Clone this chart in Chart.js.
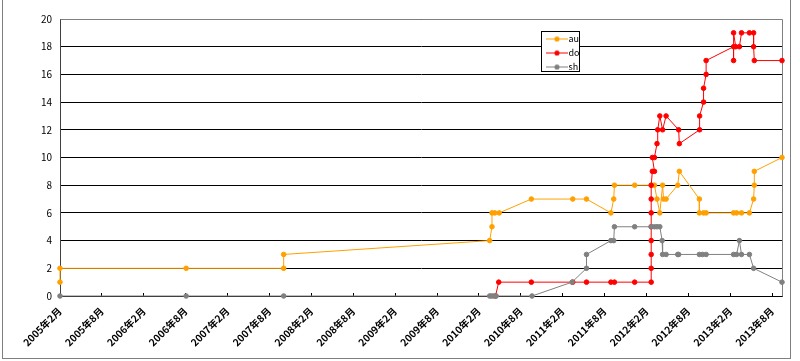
<!DOCTYPE html>
<html><head><meta charset="utf-8">
<script src="https://cdn.jsdelivr.net/npm/chart.js@4/dist/chart.umd.min.js"></script>
<style>
html,body{margin:0;padding:0;background:#fff;overflow:hidden;width:800px;height:361px}
#frame{position:absolute;left:2px;top:-2px;width:787px;height:359px;border:1px solid #7f7f7f;}
#wrap{position:absolute;left:0;top:0;width:800px;height:361px}
</style></head><body>
<div id="frame"></div>
<div id="wrap"><canvas id="c" width="800" height="361"></canvas></div>
<script>
const seriesNames = ['au', 'do', 'sh'];
const seriesColors = ['#FFA000', '#FF0000', '#808080'];

const auDates = ['2005-02-01','2005-02-01','2006-08-03','2007-10-02','2007-10-02','2010-03-17','2010-03-27','2010-03-27','2010-04-09','2010-04-28','2010-09-16','2011-03-14','2011-05-13','2011-08-28','2011-09-10','2011-09-13','2011-12-10','2012-02-21','2012-03-05','2012-03-16','2012-03-28','2012-04-10','2012-04-14','2012-04-25','2012-06-15','2012-06-22','2012-09-18','2012-09-18','2012-10-06','2012-10-17','2013-02-15','2013-02-28','2013-03-19','2013-04-23','2013-05-11','2013-05-14','2013-05-14','2013-09-13'];
const auValues = [1,2,2,2,3,4,5,6,6,6,7,7,7,6,7,8,8,8,8,7,6,8,7,7,8,9,7,6,6,6,6,6,6,6,7,8,9,10];

const doDates = ['2010-04-12','2010-04-26','2010-09-16','2011-03-14','2011-05-13','2011-08-28','2011-09-13','2011-12-10','2012-02-21','2012-02-21','2012-02-21','2012-02-21','2012-02-21','2012-02-21','2012-02-21','2012-02-21','2012-02-26','2012-03-05','2012-02-26','2012-03-05','2012-03-16','2012-03-19','2012-03-28','2012-04-10','2012-04-25','2012-06-19','2012-06-22','2012-09-19','2012-09-19','2012-10-06','2012-10-06','2012-10-17','2012-10-17','2013-02-15','2013-02-15','2013-02-15','2013-02-24','2013-03-10','2013-03-19','2013-04-23','2013-05-11','2013-05-11','2013-05-14','2013-09-13'];
const doValues = [0,1,1,1,1,1,1,1,1,2,3,4,5,6,7,8,9,9,10,10,11,12,13,12,13,12,11,12,13,14,15,16,17,18,17,19,18,18,19,19,19,18,17,17];

const shDates = ['2005-02-01','2006-08-03','2007-10-02','2010-03-17','2010-03-24','2010-04-03','2010-04-15','2010-09-19','2011-03-11','2011-05-13','2011-05-13','2011-08-28','2011-09-10','2011-09-13','2011-12-10','2012-02-21','2012-03-05','2012-03-16','2012-03-28','2012-04-08','2012-04-10','2012-04-25','2012-06-15','2012-06-19','2012-09-18','2012-10-02','2012-10-17','2013-02-15','2013-02-28','2013-03-10','2013-03-19','2013-04-23','2013-05-11','2013-09-13'];
const shValues = [0,0,0,0,0,0,0,0,1,2,3,4,4,5,5,5,5,5,5,4,3,3,3,3,3,3,3,3,3,4,3,3,2,1];

const xTickDates = ['2005-02-01','2005-08-01','2006-02-01','2006-08-01','2007-02-01','2007-08-01','2008-02-01','2008-08-01','2009-02-01','2009-08-01','2010-02-01','2010-08-01','2011-02-01','2011-08-01','2012-02-01','2012-08-01','2013-02-01','2013-08-01'];
const xTickLabels = ['2005年2月','2005年8月','2006年2月','2006年8月','2007年2月','2007年8月','2008年2月','2008年8月','2009年2月','2009年8月','2010年2月','2010年8月','2011年2月','2011年8月','2012年2月','2012年8月','2013年2月','2013年8月'];
const xAxisStart = '2005-02-01';
const xAxisEnd = '2013-09-13';
const yTicks = [0,2,4,6,8,10,12,14,16,18,20];

function monthIndex(s) {
  const p = s.split('-').map(Number);
  return (p[0] - 2005) * 12 + (p[1] - 2) + (p[2] - 1) / 30;
}
function pts(dates, vals) { return dates.map((d, i) => ({x: monthIndex(d), y: vals[i]})); }

const seriesData = [pts(auDates, auValues), pts(doDates, doValues), pts(shDates, shValues)];

function legendIcon(color) {
  const c = document.createElement('canvas');
  c.width = 22; c.height = 7;
  const g = c.getContext('2d');
  g.strokeStyle = color; g.lineWidth = 1;
  g.beginPath(); g.moveTo(0, 3.5); g.lineTo(22, 3.5); g.stroke();
  g.fillStyle = color; g.beginPath(); g.arc(11, 3.5, 2.6, 0, Math.PI * 2); g.fill();
  return c;
}
const icons = seriesColors.map(legendIcon);

const font = '"Noto Sans CJK JP", "Noto Sans", sans-serif';

const framePlugin = {
  id: 'framePlugin',
  afterLayout(chart) {
    const lg = chart.legend;
    const h = lg.height;
    lg.left = 545; lg.top = 29.5; lg.width = 60;
    lg.right = lg.left + lg.width; lg.bottom = lg.top + h;
  },
  beforeDatasetsDraw(chart) {
    const {ctx, chartArea: a} = chart;
    ctx.save();
    ctx.strokeStyle = '#808080'; ctx.lineWidth = 1;
    ctx.beginPath();
    ctx.moveTo(Math.round(a.left) + 0.5, Math.round(a.top) + 0.5);
    ctx.lineTo(Math.round(a.right) + 0.5, Math.round(a.top) + 0.5);
    ctx.lineTo(Math.round(a.right) + 0.5, Math.round(a.bottom) + 0.5);
    ctx.stroke();
    ctx.restore();
  },
  afterDatasetsDraw(chart) {
    const ctx = chart.ctx;
    ctx.save();
    ctx.fillStyle = '#fff'; ctx.fillRect(541.5, 31.5, 38, 40);
    ctx.strokeStyle = '#000'; ctx.lineWidth = 1; ctx.strokeRect(541.5, 31.5, 38, 40);
    ctx.restore();
    chart.legend.draw();
  }
};

new Chart(document.getElementById('c'), {
  type: 'scatter',
  data: {
    datasets: seriesNames.map((n, i) => ({
      label: n,
      data: seriesData[i],
      order: seriesNames.length - i,
      showLine: true,
      borderColor: seriesColors[i],
      backgroundColor: seriesColors[i],
      borderWidth: 1,
      pointRadius: 2.3,
      pointBorderWidth: 1,
      pointBorderColor: seriesColors[i],
      pointBackgroundColor: seriesColors[i],
      tension: 0,
      clip: false
    }))
  },
  options: {
    responsive: false,
    animation: false,
    layout: {padding: {left: 0, top: 19, right: 18, bottom: 0}},
    plugins: {
      tooltip: {enabled: false},
      legend: {
        position: 'chartArea',
        align: 'start',
        labels: {
          usePointStyle: true,
          pointStyleWidth: 14,
          padding: 5,
          color: '#000',
          font: {family: font, size: 9},
          generateLabels(chart) {
            const items = Chart.defaults.plugins.legend.labels.generateLabels(chart);
            items.sort((a, b) => a.datasetIndex - b.datasetIndex);
            items.forEach((it) => { it.pointStyle = icons[it.datasetIndex]; });
            return items;
          }
        }
      }
    },
    scales: {
      x: {
        type: 'linear',
        min: monthIndex(xAxisStart),
        max: monthIndex(xAxisEnd),
        afterBuildTicks(s) { s.ticks = xTickDates.map(d => ({value: monthIndex(d)})); },
        afterFit(s) { s.height = 65; },
        ticks: {
          autoSkip: false, minRotation: 45, maxRotation: 45, padding: 12,
          color: '#000', font: {family: font, size: 10, weight: 'bold'},
          callback: (v, i) => xTickLabels[i]
        },
        grid: {drawOnChartArea: false, drawTicks: true, tickLength: -3, color: '#000'},
        border: {color: '#000', width: 1}
      },
      y: {
        min: 0, max: 20,
        afterBuildTicks(s) { s.ticks = yTicks.map(v => ({value: v})); },
        afterFit(s) { s.width = 60; },
        ticks: {padding: 8, color: '#000', font: {family: font, size: 10}},
        grid: {color: '#000', drawTicks: false},
        border: {color: '#404040', width: 1}
      }
    }
  },
  plugins: [framePlugin]
});
</script>
</body></html>
